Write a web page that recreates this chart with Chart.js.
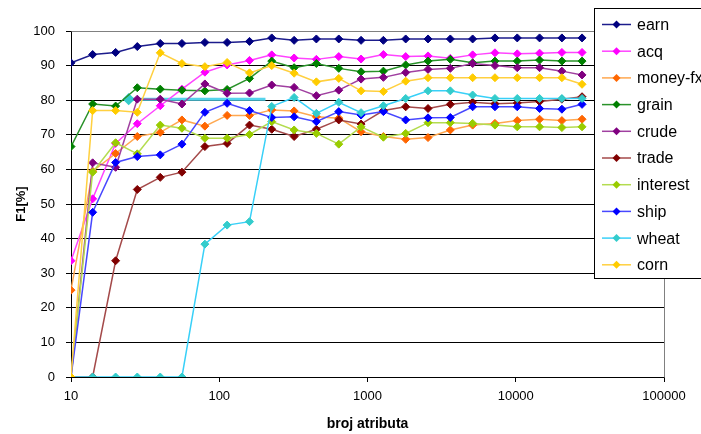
<!DOCTYPE html>
<html>
<head>
<meta charset="utf-8">
<script src="https://cdn.jsdelivr.net/npm/chart.js@4.4.1/dist/chart.umd.min.js"></script>
<style>
  html, body { margin: 0; padding: 0; background: #fff; }
  #wrap { width: 701px; height: 434px; position: relative; }
</style>
</head>
<body>
<div id="wrap"><canvas id="c" width="701" height="434"></canvas></div>
<script>
// Number of attributes (log x axis)
const attributes = [10, 14, 20, 28, 40, 56, 80, 113, 160, 226, 320, 452, 640, 905, 1280, 1810, 2560, 3620, 5120, 7240, 10240, 14480, 20480, 28000];
const xTickValues = [10, 100, 1000, 10000, 100000];

// F1 [%] per category
const earn     = [90.8, 93.2, 93.8, 95.5, 96.4, 96.4, 96.7, 96.7, 97.0, 98.0, 97.3, 97.7, 97.7, 97.3, 97.3, 97.7, 97.7, 97.7, 97.7, 98.0, 98.0, 98.0, 98.0, 98.0];
const acq      = [33.6, 51.5, 67.5, 73.2, 78.4, 83.2, 88.1, 90.2, 91.5, 93.1, 92.2, 91.8, 92.6, 91.9, 93.2, 92.6, 92.8, 92.1, 93.1, 93.7, 93.4, 93.6, 93.8, 93.8];
const moneyFx  = [25.1, 59.5, 64.6, 69.5, 70.7, 74.3, 72.5, 75.6, 75.6, 77.2, 76.9, 75.2, 74.8, 70.9, 69.5, 68.7, 69.2, 71.4, 72.8, 73.3, 74.1, 74.5, 74.1, 74.5];
const grain    = [66.6, 78.9, 78.3, 83.6, 83.2, 82.9, 82.7, 83.1, 86.3, 91.3, 89.4, 90.6, 89.2, 88.2, 88.4, 90.2, 91.3, 91.8, 90.8, 91.3, 91.3, 91.6, 91.3, 91.3];
const crude    = [0, 61.9, 60.6, 80.3, 80.3, 78.9, 84.7, 82.0, 82.1, 84.4, 83.7, 81.3, 82.9, 86.1, 86.6, 88.0, 88.9, 89.2, 90.6, 90.0, 89.4, 89.4, 88.4, 87.3];
const trade    = [0, 0, 33.6, 54.2, 57.7, 59.2, 66.6, 67.5, 72.8, 71.6, 69.5, 71.6, 74.3, 73.1, 77.0, 78.1, 77.6, 78.8, 79.4, 79.0, 79.2, 79.6, 80.3, 81.0];
const interest = [0, 59.2, 67.7, 64.5, 72.8, 71.9, 69.0, 69.0, 70.1, 73.8, 71.4, 70.4, 67.3, 72.3, 69.3, 70.4, 73.5, 73.5, 73.3, 72.8, 72.3, 72.3, 72.1, 72.3];
const ship     = [0, 47.6, 62.0, 63.7, 64.2, 67.3, 76.5, 79.1, 77.0, 75.0, 75.2, 73.8, 76.7, 75.7, 76.7, 74.3, 74.9, 75.0, 78.1, 78.1, 78.1, 77.6, 77.4, 78.8];
const wheat    = [0, 0, 0, 0, 0, 0, 38.4, 43.9, 44.9, 78.2, 80.8, 76.2, 79.4, 76.4, 78.4, 80.5, 82.7, 82.7, 81.5, 80.5, 80.5, 80.5, 80.5, 80.5];
const corn     = [0, 77.0, 77.0, 76.5, 93.7, 90.6, 89.7, 90.9, 87.9, 90.0, 87.8, 85.3, 86.3, 82.7, 82.5, 85.5, 86.5, 86.5, 86.5, 86.5, 86.5, 86.5, 86.5, 84.6];

// Short horizontal cyan segment at 80 %
const refX = [24.5, 205];
const refY = [80.3, 80.3];

const seriesNames = ['earn', 'acq', 'money-fx', 'grain', 'crude', 'trade', 'interest', 'ship', 'wheat', 'corn'];
const seriesValues = [earn, acq, moneyFx, grain, crude, trade, interest, ship, wheat, corn];
const lineColors   = ['#1c1c8c', '#ff44ff', '#ffa850', '#2a922a', '#a040a0', '#a44a4a', '#b4dc50', '#4848ff', '#38d0f8', '#ffd040'];
const markerColors = ['#000080', '#ff00ff', '#ff6600', '#008000', '#800080', '#800000', '#99cc00', '#0000ff', '#33cccc', '#ffcc00'];

const toPoints = (xs, ys) => xs.map((x, i) => ({ x: x, y: ys[i] }));

const datasets = seriesValues.map((vals, i) => ({
  label: seriesNames[i],
  data: toPoints(attributes, vals),
  borderColor: lineColors[i],
  backgroundColor: markerColors[i],
  pointBackgroundColor: markerColors[i],
  pointBorderColor: markerColors[i],
  borderWidth: 1.5,
  pointStyle: 'rectRot',
  pointRadius: 4,
  pointBorderWidth: 1,
  tension: 0,
  order: -i
}));

datasets.push({
  label: '_ref',
  data: toPoints(refX, refY),
  borderColor: '#55d4ec',
  backgroundColor: '#33cccc',
  pointBackgroundColor: '#33cccc',
  pointBorderColor: '#33cccc',
  borderWidth: 3,
  pointStyle: 'rectRot',
  pointRadius: [4, 0],
  order: 5
});

const FONT = "'Liberation Sans', Arial, sans-serif";

// Boxed legend drawn over the right part of the plot
const boxLegend = {
  id: 'boxLegend',
  afterDraw(chart) {
    const ctx = chart.ctx;
    ctx.save();
    const bx = 594.5, by = 8.5, bw = 130, bh = 270;
    ctx.fillStyle = '#ffffff';
    ctx.fillRect(bx, by, bw, bh);
    ctx.strokeStyle = '#000000';
    ctx.lineWidth = 1;
    ctx.strokeRect(bx, by, bw, bh);
    ctx.font = '16px ' + FONT;
    ctx.textBaseline = 'middle';
    ctx.textAlign = 'left';
    seriesNames.forEach((name, i) => {
      const y = 24.5 + i * 26.7;
      ctx.strokeStyle = lineColors[i];
      ctx.lineWidth = 1.5;
      ctx.beginPath();
      ctx.moveTo(602, y);
      ctx.lineTo(631, y);
      ctx.stroke();
      ctx.fillStyle = markerColors[i];
      ctx.beginPath();
      ctx.moveTo(616.5, y - 4);
      ctx.lineTo(620.5, y);
      ctx.lineTo(616.5, y + 4);
      ctx.lineTo(612.5, y);
      ctx.closePath();
      ctx.fill();
      ctx.fillStyle = '#000000';
      ctx.fillText(name, 637, y + 1);
    });
    ctx.restore();
  }
};

// Gray plot frame on top and right
const plotFrame = {
  id: 'plotFrame',
  beforeDatasetsDraw(chart) {
    const { ctx, chartArea: a } = chart;
    ctx.save();
    ctx.strokeStyle = '#808080';
    ctx.lineWidth = 1;
    ctx.beginPath();
    ctx.moveTo(Math.round(a.left) + 0.5, Math.round(a.top) + 0.5);
    ctx.lineTo(Math.round(a.right) + 0.5, Math.round(a.top) + 0.5);
    ctx.lineTo(Math.round(a.right) + 0.5, Math.round(a.bottom) + 0.5);
    ctx.stroke();
    ctx.restore();
  }
};

new Chart(document.getElementById('c'), {
  type: 'line',
  data: { datasets: datasets },
  options: {
    responsive: false,
    animation: false,
    events: [],
    layout: { padding: { top: 31, right: 37, left: 0, bottom: 0 } },
    plugins: {
      legend: { display: false },
      tooltip: { enabled: false }
    },
    scales: {
      x: {
        type: 'logarithmic',
        min: 10,
        max: 100000,
        afterBuildTicks: (s) => { s.ticks = xTickValues.map(v => ({ value: v })); },
        afterFit: (s) => { s.height = 57; },
        ticks: {
          callback: (v) => String(v),
          color: '#000',
          font: { family: FONT, size: 13 },
          padding: 7,
          maxRotation: 0,
          autoSkip: false
        },
        grid: { drawOnChartArea: false, color: '#000', tickLength: 5, lineWidth: 1 },
        border: { color: '#000', width: 1 },
        title: {
          display: true,
          text: 'broj atributa',
          color: '#000',
          font: { family: FONT, size: 14, weight: 'bold' },
          padding: { top: 0, bottom: 1 }
        }
      },
      y: {
        min: 0,
        max: 100,
        afterFit: (s) => { s.width = 71; },
        ticks: {
          stepSize: 10,
          color: '#000',
          font: { family: FONT, size: 13 },
          padding: 11
        },
        grid: {
          color: (c) => (c.tick && c.tick.value === 100 ? '#808080' : '#000'),
          tickColor: '#000',
          tickLength: 5,
          lineWidth: 1
        },
        border: { color: '#000', width: 1 },
        title: {
          display: true,
          text: 'F1[%]',
          color: '#000',
          font: { family: FONT, size: 13, weight: 'bold' },
          padding: { top: 14, bottom: 0 }
        }
      }
    }
  },
  plugins: [plotFrame, boxLegend]
});
</script>
</body>
</html>
